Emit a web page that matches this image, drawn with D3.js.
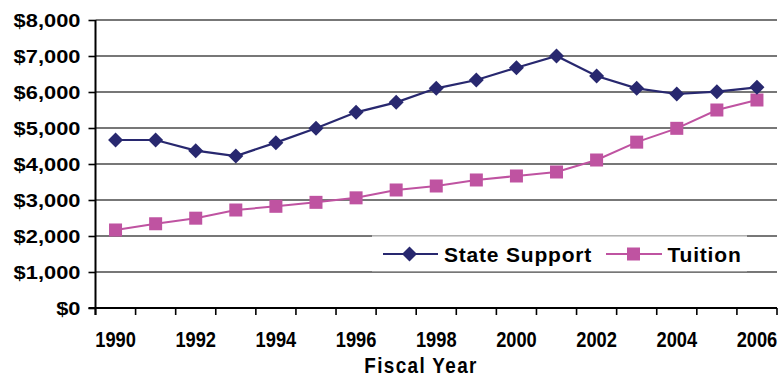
<!DOCTYPE html>
<html>
<head>
<meta charset="utf-8">
<script src="https://cdn.jsdelivr.net/npm/d3@7"></script>
<style>
  html, body { margin: 0; padding: 0; background: #fff; }
  svg { display: block; font-family: "Liberation Sans", Arial, sans-serif; }
</style>
</head>
<body>
<svg id="chart" width="782" height="377"></svg>
<script>
// Fiscal years on the horizontal axis
const years = [1990, 1991, 1992, 1993, 1994, 1995, 1996, 1997, 1998,
               1999, 2000, 2001, 2002, 2003, 2004, 2005, 2006];
// Dollars per student
const stateSupport = [4667, 4667, 4370, 4222, 4593, 4991, 5435, 5713, 6102,
                      6333, 6675, 7000, 6444, 6102, 5944, 6009, 6130];
const tuition = [2167, 2340, 2495, 2722, 2825, 2935, 3060, 3278, 3389,
                 3556, 3667, 3778, 4111, 4607, 4991, 5500, 5778];
const yTicks = [0, 1000, 2000, 3000, 4000, 5000, 6000, 7000, 8000];
const xLabelYears = [1990, 1992, 1994, 1996, 1998, 2000, 2002, 2004, 2006];
const seriesNames = ["State Support", "Tuition"];

const navy = "#28286f";
const pink = "#bf53a1";

const svg = d3.select("#chart");
const plotL = 95.5, plotR = 777, plotT = 20, plotB = 308;

const x = d3.scaleBand().domain(years).range([plotL, plotR]).padding(0);
const y = d3.scaleLinear().domain([0, 8000]).range([plotB, plotT]);
const cx = d => x(d) + x.bandwidth() / 2;

// horizontal gridlines
svg.append("g")
  .selectAll("line")
  .data(yTicks.filter(v => v > 0))
  .join("line")
  .attr("x1", plotL).attr("x2", plotR)
  .attr("y1", d => y(d)).attr("y2", d => y(d))
  .attr("stroke", "#4a4a4a").attr("stroke-width", 1.3);

// y axis with dollar labels
const yAxis = svg.append("g")
  .attr("transform", `translate(${plotL},0)`)
  .call(d3.axisLeft(y).tickValues(yTicks).tickSize(7).tickPadding(0)
        .tickFormat(d => "$" + d3.format(",")(d)));
yAxis.select(".domain").remove();
yAxis.selectAll(".tick line").attr("stroke", "#000").attr("stroke-width", 1.6);
yAxis.selectAll(".tick text")
  .attr("x", 0).attr("dy", null)
  .attr("transform", "translate(-15,6.5) scale(1.25,1)")
  .attr("text-anchor", "end")
  .attr("fill", "#000")
  .style("font-size", "17.5px").style("font-weight", "bold")
  .style("font-family", "'Liberation Sans', Arial, sans-serif");

// x axis: tick marks on category boundaries, labels on every other year
const boundaries = years.map(d => x(d)).concat([plotR]);
svg.append("g")
  .selectAll("line")
  .data(boundaries)
  .join("line")
  .attr("x1", d => d).attr("x2", d => d)
  .attr("y1", plotB).attr("y2", plotB + 7)
  .attr("stroke", "#000").attr("stroke-width", 1.6);

const xAxis = svg.append("g")
  .attr("transform", `translate(0,${plotB})`)
  .call(d3.axisBottom(x).tickValues(xLabelYears).tickSize(0).tickFormat(d3.format("d")));
xAxis.select(".domain").remove();
xAxis.selectAll(".tick text")
  .attr("y", 0).attr("dy", null)
  .attr("transform", "translate(0,38.5) scale(0.83,1)")
  .attr("text-anchor", "middle")
  .attr("fill", "#000")
  .style("font-size", "22px").style("font-weight", "bold")
  .style("font-family", "'Liberation Sans', Arial, sans-serif");

// axis lines
svg.append("line")
  .attr("x1", plotL).attr("x2", plotL).attr("y1", plotT).attr("y2", plotB + 7)
  .attr("stroke", "#000").attr("stroke-width", 2);
svg.append("line")
  .attr("x1", plotL - 7).attr("x2", plotR).attr("y1", plotB).attr("y2", plotB)
  .attr("stroke", "#000").attr("stroke-width", 2);

// axis title
svg.append("text")
  .attr("transform", "translate(421,373) scale(0.86,1)")
  .attr("text-anchor", "middle")
  .style("font-size", "22px").style("font-weight", "bold")
  .style("letter-spacing", "1.6px")
  .text("Fiscal Year");

// legend box
const legend = svg.append("g");
legend.append("rect")
  .attr("x", 372).attr("y", 236).attr("width", 375).attr("height", 35.3)
  .attr("fill", "#fff");
legend.append("line")
  .attr("x1", 372).attr("x2", 747).attr("y1", 236).attr("y2", 236)
  .attr("stroke", "#c4c4c4").attr("stroke-width", 1.3);

// series lines and markers
const line = d3.line().x((d, i) => cx(years[i])).y(d => y(d));

svg.append("path").datum(tuition)
  .attr("d", line).attr("fill", "none")
  .attr("stroke", pink).attr("stroke-width", 2);
svg.append("g").selectAll("rect")
  .data(tuition)
  .join("rect")
  .attr("x", (d, i) => cx(years[i]) - 6.5)
  .attr("y", d => y(d) - 6.5)
  .attr("width", 13).attr("height", 13)
  .attr("fill", pink);

svg.append("path").datum(stateSupport)
  .attr("d", line).attr("fill", "none")
  .attr("stroke", navy).attr("stroke-width", 2.2);
const diamond = "M0,-7.5L7.5,0L0,7.5L-7.5,0Z";
svg.append("g").selectAll("path")
  .data(stateSupport)
  .join("path")
  .attr("transform", (d, i) => `translate(${cx(years[i])},${y(d)})`)
  .attr("d", diamond)
  .attr("fill", navy);

// legend entries
const ly = 254;
legend.append("line")
  .attr("x1", 383).attr("x2", 438).attr("y1", ly).attr("y2", ly)
  .attr("stroke", navy).attr("stroke-width", 2);
legend.append("path")
  .attr("transform", `translate(409.5,${ly})`)
  .attr("d", diamond).attr("fill", navy);
legend.append("text")
  .attr("x", 444).attr("y", ly + 7.5)
  .style("font-size", "21px").style("font-weight", "bold")
  .style("letter-spacing", "0.8px")
  .text(seriesNames[0]);

legend.append("line")
  .attr("x1", 606).attr("x2", 662).attr("y1", ly).attr("y2", ly)
  .attr("stroke", pink).attr("stroke-width", 2);
legend.append("rect")
  .attr("x", 633.5 - 6.5).attr("y", ly - 6.5).attr("width", 13).attr("height", 13)
  .attr("fill", pink);
legend.append("text")
  .attr("x", 667.5).attr("y", ly + 7.5)
  .style("font-size", "21px").style("font-weight", "bold")
  .style("letter-spacing", "0.8px")
  .text(seriesNames[1]);
</script>
</body>
</html>
